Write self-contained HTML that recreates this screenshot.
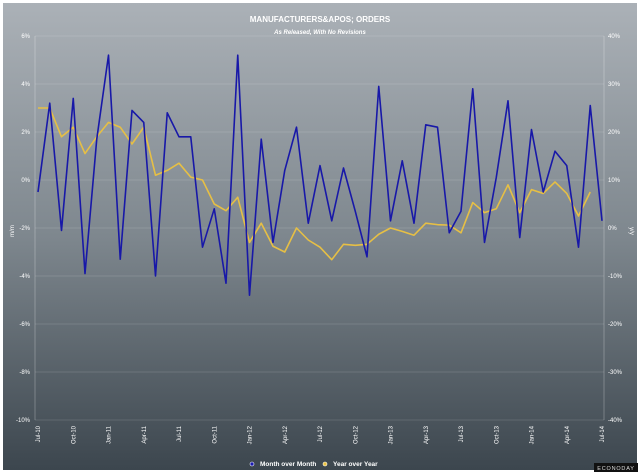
<!DOCTYPE html>
<html><head><meta charset="utf-8"><style>
html,body{margin:0;padding:0;background:#fff;}
svg{display:block;font-family:"Liberation Sans",sans-serif;}
</style></head><body>
<svg id="chart" width="640" height="473">
<defs>
<linearGradient id="bg" x1="0" y1="0" x2="0" y2="1">
<stop offset="0" stop-color="#abb1b7"/><stop offset="0.5" stop-color="#7e878e"/><stop offset="1" stop-color="#3c464e"/>
</linearGradient>
</defs>
<rect x="3" y="3" width="634" height="467" fill="url(#bg)"/>
<text x="320" y="22" text-anchor="middle" fill="#fff" font-size="8" font-weight="bold">MANUFACTURERS&amp;APOS; ORDERS</text>
<text x="320" y="34" text-anchor="middle" fill="#fff" font-size="6" font-style="italic" font-weight="bold">As Released, With No Revisions</text>
<text transform="translate(14,231) rotate(-90)" text-anchor="middle" fill="#fff" font-size="6">m/m</text>
<text transform="translate(630,231) rotate(90)" text-anchor="middle" fill="#fff" font-size="6">y/y</text>
<g id="grid"></g><g id="marks"></g><g id="axes"></g>
<g>
<circle cx="252" cy="464" r="2" fill="#1a1ab0" stroke="#fff" stroke-width="0.6"/>
<text x="260" y="466" fill="#fff" font-size="6.5" font-weight="bold">Month over Month</text>
<circle cx="325" cy="464" r="2" fill="#e8c040" stroke="#fff" stroke-width="0.6"/>
<text x="333" y="466" fill="#fff" font-size="6.5" font-weight="bold">Year over Year</text>
</g>
<rect x="594" y="463" width="44" height="9" fill="#111"/>
<text x="616" y="470" text-anchor="middle" fill="#ddd" font-size="5.5" letter-spacing="0.8">ECONODAY</text>
</svg>
<script>
const categories = ["Jul-10","Aug-10","Sep-10","Oct-10","Nov-10","Dec-10","Jan-11","Feb-11","Mar-11","Apr-11","May-11","Jun-11","Jul-11","Aug-11","Sep-11","Oct-11","Nov-11","Dec-11","Jan-12","Feb-12","Mar-12","Apr-12","May-12","Jun-12","Jul-12","Aug-12","Sep-12","Oct-12","Nov-12","Dec-12","Jan-13","Feb-13","Mar-13","Apr-13","May-13","Jun-13","Jul-13","Aug-13","Sep-13","Oct-13","Nov-13","Dec-13","Jan-14","Feb-14","Mar-14","Apr-14","May-14","Jun-14","Jul-14"];
const momValues = [-0.5,3.2,-2.1,3.4,-3.9,1.7,5.2,-3.3,2.9,2.4,-4.0,2.8,1.8,1.8,-2.8,-1.2,-4.3,5.2,-4.8,1.7,-2.6,0.4,2.2,-1.8,0.6,-1.7,0.5,-1.3,-3.2,3.9,-1.7,0.8,-1.8,2.3,2.2,-2.2,-1.3,3.8,-2.6,0.1,3.3,-2.4,2.1,-0.5,1.2,0.6,-2.8,3.1,-1.7];
const yoyValues = [25,25,19,21,15.5,19,22,21,17.5,21,11,12,13.5,10.6,10,5,3.6,6.4,-3,1,-3.8,-5,0,-2.5,-4,-6.6,-3.4,-3.6,-3.4,-1.3,0,-0.7,-1.5,1,0.7,0.6,-1,5.3,3.2,4,9,3.2,8,7.2,9.6,7.2,2.5,7.5];
const leftTicks = [6,4,2,0,-2,-4,-6,-8,-10];
const rightTicks = [40,30,20,10,0,-10,-20,-30,-40];
const xLabelEvery = 3;

const NS="http://www.w3.org/2000/svg";
const PL=35, PR=604, PT=36, PB=420, X0=38, X1=602;
const xS=i=>X0+(X1-X0)*i/(categories.length-1);
const yL=v=>PT+(6-v)/16*(PB-PT);
const yR=v=>228-(v)*4.8;
function mk(tag,attrs,parent){const e=document.createElementNS(NS,tag);for(const k in attrs)e.setAttribute(k,attrs[k]);parent.appendChild(e);return e;}
const grid=document.getElementById('grid'),marks=document.getElementById('marks'),axes=document.getElementById('axes');
mk('line',{x1:PL,y1:PT,x2:PL,y2:PB,stroke:'rgba(255,255,255,0.25)','stroke-width':1},grid);
mk('line',{x1:PR,y1:PT,x2:PR,y2:PB,stroke:'rgba(255,255,255,0.25)','stroke-width':1},grid);
leftTicks.forEach(v=>{
  const g=mk('line',{x1:PL,y1:yL(v),x2:PR,y2:yL(v),stroke:'rgba(255,255,255,0.12)','stroke-width':1},grid);
  
  
  const t=mk('text',{x:PL-5,y:yL(v)+2,'text-anchor':'end',fill:'#fff','font-size':6},axes);
  t.textContent=v+'%';
  
  
});
rightTicks.forEach(v=>{
  const t=mk('text',{x:PR+4,y:yR(v)+2,fill:'#fff','font-size':6},axes);
  t.textContent=v+'%';
  
  
});
categories.forEach((c,i)=>{
  if(i%xLabelEvery!==0)return;
  const t=mk('text',{transform:`translate(${xS(i)+2},${PB+6}) rotate(-90)`,'text-anchor':'end',fill:'#fff','font-size':6},axes);
  t.textContent=c;
  
  
});
const yoyPath=mk('polyline',{points:yoyValues.map((v,i)=>xS(i)+','+yR(v)).join(' '),fill:'none',stroke:'#e6bf45','stroke-width':1.6,'stroke-linejoin':'round'},marks);


const momPath=mk('polyline',{points:momValues.map((v,i)=>xS(i)+','+yL(v)).join(' '),fill:'none',stroke:'#1818a8','stroke-width':1.6,'stroke-linejoin':'round'},marks);


</script>
</body></html>
